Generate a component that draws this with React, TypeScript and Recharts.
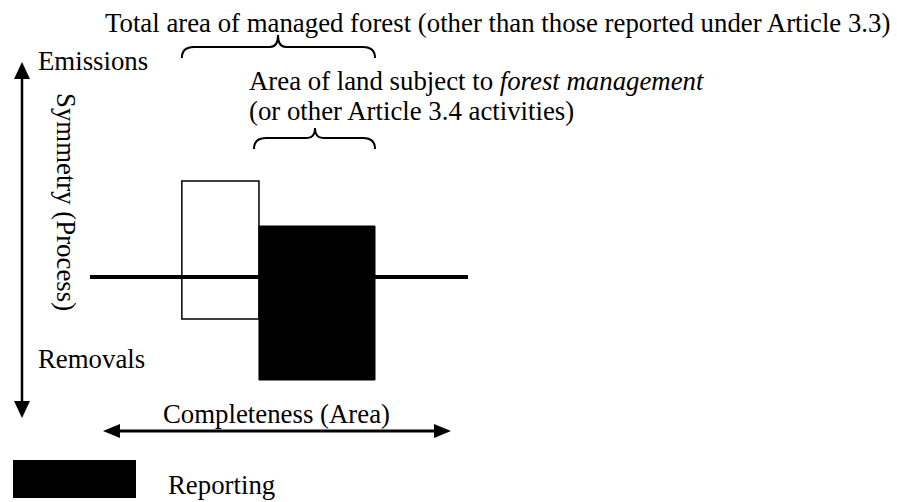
import { ComposedChart, Line, XAxis, YAxis, ReferenceArea, Customized } from "recharts";

// boxes: white = total managed forest, black = forest management (reported)
const boxNames = ["Total managed forest", "Forest management"];
const areaFrom = [24.3, 44.7];
const areaTo = [44.7, 75.4];
const emissions = [96, 51];
const removals = [-42, -103];
const boxFill = ["#ffffff", "#000000"];

// the zero line (net flux) across the whole area
const baseline = [
  { area: 0, flux: 0 },
  { area: 100, flux: 0 },
];

const W = 897;
const H = 502;
const margin = { top: 167, right: 429, bottom: 115, left: 90 };
const font = "'Liberation Serif', 'Times New Roman', serif";
const fs = 26.8;

// same mapping as the x axis, used only to place the braces
const sx = (v: number) => margin.left + (v / 100) * (W - margin.left - margin.right);

function brace(x1: number, x2: number, xm: number, yEnd: number, yFlat: number, yTip: number) {
  const r = 12;
  const t = 8;
  return `M${x1},${yEnd} Q${x1},${yFlat} ${x1 + r},${yFlat} L${xm - t},${yFlat} Q${xm},${yFlat} ${xm},${yTip} Q${xm},${yFlat} ${xm + t},${yFlat} L${x2 - r},${yFlat} Q${x2},${yFlat} ${x2},${yEnd}`;
}

function Annotations() {
  const b1l = sx(areaFrom[0]);
  const b1r = sx(areaTo[1]);
  const b2l = sx(areaFrom[1]) - 5;
  const b2r = sx(areaTo[1]);
  return (
    <g fontFamily={font} fontSize={fs} fill="#000">
      <text x={105} y={32}>Total area of managed forest (other than those reported under Article 3.3)</text>
      <path d={brace(b1l, b1r, 278, 58, 47, 35)} fill="none" stroke="#000" strokeWidth={2} />

      <text x={249} y={89.5}>
        Area of land subject to <tspan fontStyle="italic">forest management</tspan>
      </text>
      <text x={249} y={119.5}>(or other Article 3.4 activities)</text>
      <path d={brace(b2l, b2r, 315, 149, 138, 128)} fill="none" stroke="#000" strokeWidth={2} />

      {/* vertical double arrow */}
      <line x1={22} y1={74} x2={22} y2={406} stroke="#000" strokeWidth={2.5} />
      <polygon points="22,62 14,79 30,79" fill="#000" />
      <polygon points="22,418 14,401 30,401" fill="#000" />
      <text x={38} y={70}>Emissions</text>
      <text x={38} y={368}>Removals</text>
      <text x={57} y={93} transform="rotate(90, 57, 93)">Symmetry (Process)</text>

      {/* horizontal double arrow */}
      <line x1={115} y1={431} x2={440} y2={431} stroke="#000" strokeWidth={3} />
      <polygon points="103,431 120,424 120,438" fill="#000" />
      <polygon points="451,431 434,424 434,438" fill="#000" />
      <text x={163} y={423}>Completeness (Area)</text>

      {/* legend */}
      <rect x={13} y={460} width={123} height={38} fill="#000" />
      <text x={168} y={494}>Reporting</text>
    </g>
  );
}

export default function App() {
  return (
    <div style={{ position: "absolute", left: 0, top: 0, width: W, height: H, background: "#fff" }}>
      <ComposedChart width={W} height={H} data={baseline} margin={margin}>
        <XAxis dataKey="area" type="number" domain={[0, 100]} hide />
        <YAxis type="number" domain={[-110, 110]} hide allowDataOverflow />
        {boxNames.map((name, i) => (
          <ReferenceArea
            key={name}
            x1={areaFrom[i]}
            x2={areaTo[i]}
            y1={removals[i]}
            y2={emissions[i]}
            fill={boxFill[i]}
            fillOpacity={1}
            stroke="#000"
            strokeWidth={i === 0 ? 1.5 : 1}
            ifOverflow="visible"
          />
        ))}
        <Line
          dataKey="flux"
          stroke="#000"
          strokeWidth={4}
          dot={false}
          activeDot={false}
          isAnimationActive={false}
        />
        <Customized component={Annotations} />
      </ComposedChart>
    </div>
  );
}
